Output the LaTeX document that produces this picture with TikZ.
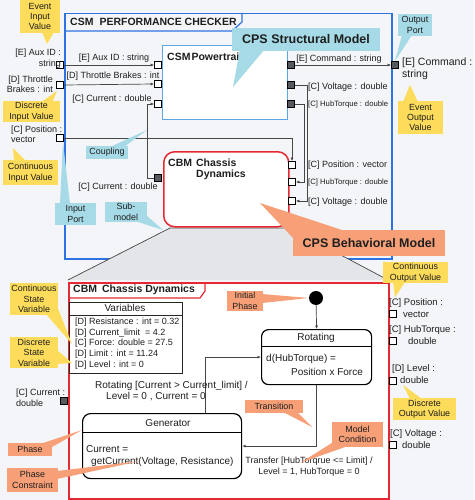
\documentclass[tikz,border=0pt]{standalone}
\usepackage{fontspec}
\setmainfont{Liberation Sans}
\usetikzlibrary{arrows.meta,calc}
\definecolor{bgc}{RGB}{243,245,248}
\definecolor{bluec}{RGB}{45,115,225}
\definecolor{ptblue}{RGB}{95,165,225}
\definecolor{redc}{RGB}{230,40,50}
\definecolor{ylwc}{RGB}{252,220,90}
\definecolor{cyanc}{RGB}{165,218,230}
\definecolor{salc}{RGB}{247,160,120}
\definecolor{trapc}{RGB}{228,229,232}
\definecolor{linec}{RGB}{70,70,70}
\definecolor{dportc}{RGB}{85,90,95}
\definecolor{txtc}{RGB}{30,30,30}
\begin{document}
\begin{tikzpicture}[x=1pt,y=-1pt,
 txt/.style={inner sep=0, text=txtc, font=\fontsize{9}{10.5}\selectfont},
 txtm/.style={inner sep=0, text=txtc, font=\fontsize{9.5}{11}\selectfont},
 txtb/.style={inner sep=0, text=txtc, font=\fontsize{10}{12}\selectfont},
 txts/.style={inner sep=0, text=txtc, font=\fontsize{7.7}{9}\selectfont},
 ttl/.style={inner sep=0, text=txtc, font=\bfseries\fontsize{10.5}{12}\selectfont},
 portw/.style={draw=black, fill=white, line width=0.8pt, minimum size=7, inner sep=0},
 dport/.style={portw, fill=dportc},
 conn/.style={draw=linec, line width=0.7pt, -{Latex[length=3.5pt,width=3pt]}},
 co/.style={align=center, inner sep=0, text=txtc, font=\fontsize{8.9}{10.4}\selectfont},
 ylw/.style={co, fill=ylwc},
 cyn/.style={co, fill=cyanc},
 sal/.style={co, fill=salc},
 bigco/.style={inner sep=0, text=txtc, font=\bfseries\fontsize{12.5}{14}\selectfont},
]
\useasboundingbox (0,0) rectangle (474,500);
\fill[bgc] (0,0) rectangle (474,500);

% ===== CSM performance checker frame
\node[draw=bluec, line width=1.5pt, fill=bgc, minimum width=327, minimum height=245, anchor=north west, inner sep=0] (csm) at (64,13) {};
\draw[bluec, line width=1.2pt] (64,31) -- (232,31) -- (242,22) -- (242,13);
\node[ttl, anchor=west] (csmt) at (70,22) {CSM\hspace{6pt}PERFORMANCE CHECKER};

% Powertrain
\node[draw=ptblue, line width=1.2pt, fill=white, minimum width=125, minimum height=74, anchor=north west, inner sep=0] (pt) at (162,45) {};
\node[ttl, anchor=west] (ptt) at (167,57) {CSM\hspace{1pt}Powertrain};

\node[portw] (pi1) at (158,65) {};
\node[portw] (pi2) at (158,84) {};
\node[portw] (pi3) at (158,104) {};
\node[dport] (po1) at (291,65) {};
\node[dport] (po2) at (291,85) {};
\node[dport] (po3) at (291,104) {};

\node[portw] (oaux) at (60,65) {};
\node[portw] (othr) at (60,85) {};
\node[portw] (opos) at (60,138) {};
\node[dport] (ocmd) at (395,65) {};

% zoom trapezoid
\fill[trapc] (170,228) -- (290,228) -- (388,280) -- (68,280) -- cycle;
\draw[linec, line width=0.7pt] (68,280) -- (170,228) -- (290,228) -- (388,280);

% Chassis block
\node[draw=redc, line width=1.5pt, fill=white, rounded corners=11pt, minimum width=125, minimum height=75, anchor=north west, inner sep=0] (cbm) at (163,151) {};
\node[ttl, anchor=west] (cbmt1) at (168,163) {CBM\hspace{4pt}Chassis};
\node[ttl, anchor=west] (cbmt2) at (196,175) {Dynamics};
\node[dport] (ccur) at (158,178) {};
\node[portw] (cpos) at (292,165) {};
\node[portw] (chub) at (292,182) {};
\node[portw] (cvol) at (292,201) {};

% connectors
\draw[conn] (oaux.east) -- (pi1.west);
\draw[conn] (othr.east) -- (pi2.west);
\draw[conn] (ccur.west) -- ++(-7,0) |- (pi3.west);
\draw[conn] (opos.east) -| (cpos.north);
\draw[conn] (po1.east) -- (ocmd.west);
\draw[conn] (po2.east) -- ++(12,0) |- (cvol.east);
\draw[conn] (po3.east) -- ++(9,0) |- (chub.east);

% labels inside CSM
\node[txt] (l1) at (114,58) {[E] Aux ID : string};
\node[txt] (l2) at (113,76) {[D] Throttle Brakes : int};
\node[txt] (l3) at (112,99) {[C] Current : double};
\node[txt] (l4) at (118,187) {[C] Current : double};
\node[txt] (l5) at (339,59) {[E] Command : string};
\node[txt, anchor=west] (l6) at (308,87) {[C] Voltage : double};
\node[txts, anchor=west] (l7) at (308,105) {[C] HubTorque : double};
\node[txt, anchor=west] (l8) at (308,165) {[C] Position : vector};
\node[txts, anchor=west] (l9) at (308,183) {[C] HubTorque : double};
\node[txt, anchor=west] (l10) at (308,202) {[C] Voltage : double};

% outer labels
\node[txt, align=right, anchor=east] (ol1) at (61,58.5) {[E] Aux ID :\\string\hspace{11pt}};
\node[txt, align=right, anchor=east] (ol2) at (53,84.5) {[D] Throttle\\Brakes : int};
\node[txt, align=left, anchor=west] (ol3) at (11,134.5) {[C] Position :\\vector};
\node[inner sep=0, text=txtc, font=\fontsize{10.5}{12}\selectfont, align=left, anchor=west] (ol4) at (402,68.5) {[E] Command :\\string};

% ===== lower expanded box
\node[draw=redc, line width=1.5pt, fill=white, minimum width=320, minimum height=216, anchor=north west, inner sep=0] (lb) at (68,282) {};
\draw[redc, line width=1.2pt] (68,298) -- (200,298) -- (205,291) -- (205,282);
\node[ttl, anchor=west] (lbt) at (73,290) {CBM\hspace{5pt}Chassis Dynamics};

% Variables
\node[draw=black!85, fill=white, line width=1.2pt, minimum width=113, minimum height=71, anchor=north west, inner sep=0] (vars) at (69,302) {};
\draw[black!85, line width=1pt] (69,315) -- (182,315);
\node[txtb] (vh) at (125,308) {Variables};
\node[txt, anchor=west] (v1) at (75,322) {[D] Resistance : int = 0.32};
\node[txt, anchor=west] (v2) at (75,333) {[D] Current\_limit\ \ = 4.2};
\node[txt, anchor=west] (v3) at (75,343.5) {[C] Force: double = 27.5};
\node[txt, anchor=west] (v4) at (75,354.5) {[D] Limit : int = 11.24};
\node[txt, anchor=west] (v5) at (75,365.5) {[D] Level : int = 0};

% states
\node[circle, fill=black, minimum size=14, inner sep=0] (init) at (316,298) {};
\node[draw=black, fill=white, line width=1.2pt, rounded corners=7pt, minimum width=110, minimum height=55, anchor=north west, inner sep=0] (rot) at (261,329) {};
\draw[black, line width=1pt] (261,346) -- (371,346);
\node[txtb] (roth) at (316,338) {Rotating};
\node[txtb, anchor=west] (rotb1) at (266,359) {d(HubTorque) =};
\node[txtb, anchor=west] (rotb2) at (291,372) {Position x Force};

\node[draw=black, fill=white, line width=1.2pt, rounded corners=8pt, minimum width=159, minimum height=65, anchor=north west, inner sep=0] (gen) at (82,413) {};
\draw[black, line width=1pt] (82,432) -- (241,432);
\node[txtb] (genh) at (168,423) {Generator};
\node[txtb, anchor=west] (genb1) at (86,449) {Current =};
\node[txtb, anchor=west] (genb2) at (91,462) {getCurrent(Voltage, Resistance)};

\coordinate (t1) at (205,357);
\draw[conn] (init) -- (rot.north);
\draw[conn] (gen.north -| t1) |- (rot.west);
\draw[conn] (rot.south) |- (gen.east);

\node[txtb, anchor=west] (tr1) at (95,386) {Rotating [Current > Current\_limit] /};
\node[txtb, anchor=west] (tr2) at (106,397) {Level = 0 , Current = 0};
\node[txt, align=center, font=\fontsize{9}{11}\selectfont] (tr3) at (309,466.5) {Transfer [HubTorqrue <= Limit] /\\Level = 1, HubTorque = 0};

% lower ports
\node[dport] (lcur) at (64,401) {};
\node[txt, align=left, anchor=west] (lcurl) at (16,398) {[C] Current :\\double};

\node[portw, line width=0.7pt] (rp1) at (393,313.5) {};
\node[txtm, anchor=west] (rl1a) at (389,303) {[C] Position :};
\node[txtm, anchor=west] (rl1b) at (403,314) {vector};
\node[portw, line width=0.7pt] (rp2) at (393,341) {};
\node[txtm, anchor=west] (rl2a) at (389,330) {[C] HubTorque :};
\node[txtm, anchor=west] (rl2b) at (408,341) {double};
\node[portw, line width=0.7pt] (rp3) at (393,380.5) {};
\node[txtm, anchor=west] (rl3a) at (392,369) {[D] Level :};
\node[txtm, anchor=west] (rl3b) at (400,380) {double};
\node[portw, line width=0.7pt] (rp4) at (393,444.5) {};
\node[txtm, anchor=west] (rl4a) at (390,434) {[C] Voltage :};
\node[txtm, anchor=west] (rl4b) at (402,445) {double};

% ===== callouts
% yellow
\fill[ylwc] (42,32) -- (54,32) -- (47,44) -- cycle;
\node[ylw, minimum width=40, minimum height=33] (cEIV) at (40,16.5) {Event\\Input\\Value};
\fill[ylwc] (40,103) -- (52,103) -- (57,91) -- cycle;
\node[ylw, minimum width=57, minimum height=21] (cDIV) at (31.5,111.5) {Discrete\\Input Value};
\fill[ylwc] (14,161) -- (26,161) -- (13,148) -- cycle;
\node[ylw, minimum width=55, minimum height=25] (cCIV) at (30.5,172.5) {Continuous\\Input Value};
\fill[ylwc] (46,314) -- (57,306) -- (72,344) -- cycle;
\node[ylw, minimum width=48, minimum height=32] (cCSV) at (34,299) {Continuous\\State\\Variable};
\fill[ylwc] (57,350) -- (57,364) -- (72,363) -- cycle;
\node[ylw, minimum width=48, minimum height=31] (cDSV) at (34,352.5) {Discrete\\State\\Variable};
\fill[ylwc] (393,282) -- (405,282) -- (395,297) -- cycle;
\node[ylw, minimum width=65, minimum height=21] (cCOV) at (415.5,272.5) {Continuous\\Output Value};
\fill[ylwc] (410,399) -- (422,399) -- (403,385) -- cycle;
\node[ylw, minimum width=63, minimum height=22] (cDOV) at (424.5,409) {Discrete\\Output Value};
\fill[ylwc] (403,102) -- (418,102) -- (410,85) -- cycle;
\node[ylw, minimum width=45, minimum height=33] (cEOV) at (420.5,117.5) {Event\\Output\\Value};

% cyan
\fill[cyanc] (60,204) -- (70,204) -- (63,142) -- cycle;
\node[cyn, minimum width=41, minimum height=22] (cIP) at (75.5,214) {Input\\Port};
\fill[cyanc] (110,147) -- (124,147) -- (147,130) -- cycle;
\node[cyn, minimum width=42, minimum height=13] (cCoup) at (107,152) {Coupling};
\fill[cyanc] (135,221) -- (147,216) -- (163,230) -- cycle;
\node[cyn, minimum width=42, minimum height=20] (cSub) at (126,212) {Sub-\\model};
\fill[cyanc] (402,35) -- (412,35) -- (395,61) -- cycle;
\node[cyn, minimum width=34, minimum height=22] (cOP) at (415,25) {Output\\Port};
\fill[cyanc] (240,49) -- (265,49) -- (233,87) -- cycle;
\node[cyn, bigco, fill=cyanc, minimum width=148, minimum height=23] (cCSM) at (306,39.5) {CPS Structural Model};

% salmon
\fill[salc] (293,238) -- (345,231) -- (260,203) -- cycle;
\node[sal, bigco, fill=salc, minimum width=152, minimum height=26] (cCBM) at (369,243) {CPS Behavioral Model};
\fill[salc] (262,294) -- (262,303) -- (309,298) -- cycle;
\node[sal, minimum width=36, minimum height=20] (cInit) at (245,301) {Initial\\Phase};
\fill[salc] (283,412) -- (297,412) -- (312,427) -- cycle;
\node[sal, minimum width=58, minimum height=13] (cTrans) at (274,406.5) {Transition};
\fill[salc] (335,441) -- (345,447) -- (300,463) -- cycle;
\node[sal, minimum width=51, minimum height=25] (cMC) at (357.5,434.5) {Model\\Condition};
\fill[salc] (40,444) -- (52,447) -- (82,430) -- cycle;
\node[sal, minimum width=44, minimum height=13] (cPh) at (30,449.5) {Phase};
\fill[salc] (57,471) -- (57,479) -- (140,461) -- cycle;
\node[sal, minimum width=51, minimum height=24] (cPC) at (32.5,480) {Phase\\Constraint};
\end{tikzpicture}
\end{document}
